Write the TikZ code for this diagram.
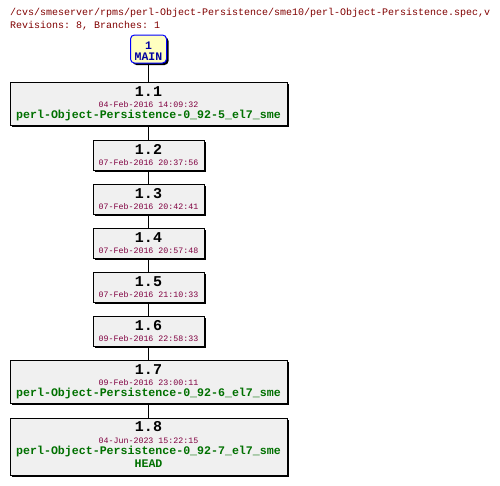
\documentclass[tikz,border=0pt]{standalone}
\usepackage{fontspec}
\setmonofont{Liberation Mono}
\usetikzlibrary{shadows}
\definecolor{titlered}{HTML}{800000}
\definecolor{datecol}{HTML}{800040}
\definecolor{tagcol}{HTML}{007000}
\definecolor{navy}{HTML}{0000A0}
\definecolor{boxfill}{HTML}{F0F0F0}
\definecolor{mainfill}{HTML}{FFFFC0}
\begin{document}
\begin{tikzpicture}[x=1pt,y=-1pt,
  revbox/.style={draw=black, line width=1pt, fill=boxfill, inner sep=0pt,
    drop shadow={shadow xshift=2pt, shadow yshift=-2pt, opacity=1, fill=black}},
  mainbox/.style={draw=blue, line width=1pt, fill=mainfill, rounded corners=4pt, inner sep=0pt,
    minimum width=36pt, minimum height=28pt,
    drop shadow={shadow xshift=2pt, shadow yshift=-2pt, opacity=1, fill=black}},
  revnum/.style={font=\ttfamily\bfseries\fontsize{15}{16}\selectfont, inner sep=0pt, text height=0.7em, text depth=0pt},
  revdate/.style={font=\ttfamily\fontsize{8.3}{9}\selectfont, text=datecol, inner sep=0pt, text height=0.7em, text depth=0pt},
  revtag/.style={font=\ttfamily\bfseries\fontsize{11.6}{12}\selectfont, text=tagcol, inner sep=0pt, text height=0.7em, text depth=0pt},
  maintxt/.style={font=\ttfamily\bfseries\fontsize{11.5}{12}\selectfont, text=navy, inner sep=0pt, text height=0.7em, text depth=0pt},
  titletxt/.style={font=\ttfamily\fontsize{10}{11}\selectfont, text=titlered, inner sep=0pt, anchor=west, text height=0.7em, text depth=0pt},
  conn/.style={draw=black, line width=1pt}
]
\useasboundingbox (0,0) rectangle (500,485);

\node[titletxt] (t1) at (10,12) {/cvs/smeserver/rpms/perl-Object-Persistence/sme10/perl-Object-Persistence.spec,v};
\node[titletxt] (t2) at (10,25) {Revisions: 8, Branches: 1};

% MAIN
\node[mainbox] (main) at (148.5,49) {};
\node[maintxt] (mainn) at (148.5,46) {1};
\node[maintxt] (mainl) at (148.5,56.5) {MAIN};

% revision boxes
\node[revbox, minimum width=277pt, minimum height=43pt] (r11) at (148.5,103.5) {};
\node[revbox, minimum width=111pt, minimum height=30pt] (r12) at (148.5,155) {};
\node[revbox, minimum width=111pt, minimum height=30pt] (r13) at (148.5,199) {};
\node[revbox, minimum width=111pt, minimum height=30pt] (r14) at (148.5,243) {};
\node[revbox, minimum width=111pt, minimum height=30pt] (r15) at (148.5,287) {};
\node[revbox, minimum width=111pt, minimum height=30pt] (r16) at (148.5,331) {};
\node[revbox, minimum width=277pt, minimum height=43pt] (r17) at (148.5,381.5) {};
\node[revbox, minimum width=277pt, minimum height=57pt] (r18) at (148.5,446.5) {};

% connectors
\draw[conn] (main.south) -- (r11.north);
\draw[conn] (r11.south) -- (r12.north);
\draw[conn] (r12.south) -- (r13.north);
\draw[conn] (r13.south) -- (r14.north);
\draw[conn] (r14.south) -- (r15.north);
\draw[conn] (r15.south) -- (r16.north);
\draw[conn] (r16.south) -- (r17.north);
\draw[conn] (r17.south) -- (r18.north);

% texts
\node[revnum] (r11a) at ([yshift=-11pt]r11.north) {1.1};
\node[revdate] (r11b) at ([yshift=-22pt]r11.north) {04-Feb-2016 14:09:32};
\node[revtag] (r11c) at ([yshift=-33pt]r11.north) {perl-Object-Persistence-0\_92-5\_el7\_sme};

\node[revnum] (r12a) at ([yshift=-11pt]r12.north) {1.2};
\node[revdate] (r12b) at ([yshift=-22pt]r12.north) {07-Feb-2016 20:37:56};

\node[revnum] (r13a) at ([yshift=-11pt]r13.north) {1.3};
\node[revdate] (r13b) at ([yshift=-22pt]r13.north) {07-Feb-2016 20:42:41};

\node[revnum] (r14a) at ([yshift=-11pt]r14.north) {1.4};
\node[revdate] (r14b) at ([yshift=-22pt]r14.north) {07-Feb-2016 20:57:48};

\node[revnum] (r15a) at ([yshift=-11pt]r15.north) {1.5};
\node[revdate] (r15b) at ([yshift=-22pt]r15.north) {07-Feb-2016 21:10:33};

\node[revnum] (r16a) at ([yshift=-11pt]r16.north) {1.6};
\node[revdate] (r16b) at ([yshift=-22pt]r16.north) {09-Feb-2016 22:58:33};

\node[revnum] (r17a) at ([yshift=-11pt]r17.north) {1.7};
\node[revdate] (r17b) at ([yshift=-22pt]r17.north) {09-Feb-2016 23:00:11};
\node[revtag] (r17c) at ([yshift=-33pt]r17.north) {perl-Object-Persistence-0\_92-6\_el7\_sme};

\node[revnum] (r18a) at ([yshift=-10pt]r18.north) {1.8};
\node[revdate] (r18b) at ([yshift=-22pt]r18.north) {04-Jun-2023 15:22:15};
\node[revtag] (r18c) at ([yshift=-33.5pt]r18.north) {perl-Object-Persistence-0\_92-7\_el7\_sme};
\node[revtag] (r18d) at ([yshift=-46.5pt]r18.north) {HEAD};
\end{tikzpicture}
\end{document}
